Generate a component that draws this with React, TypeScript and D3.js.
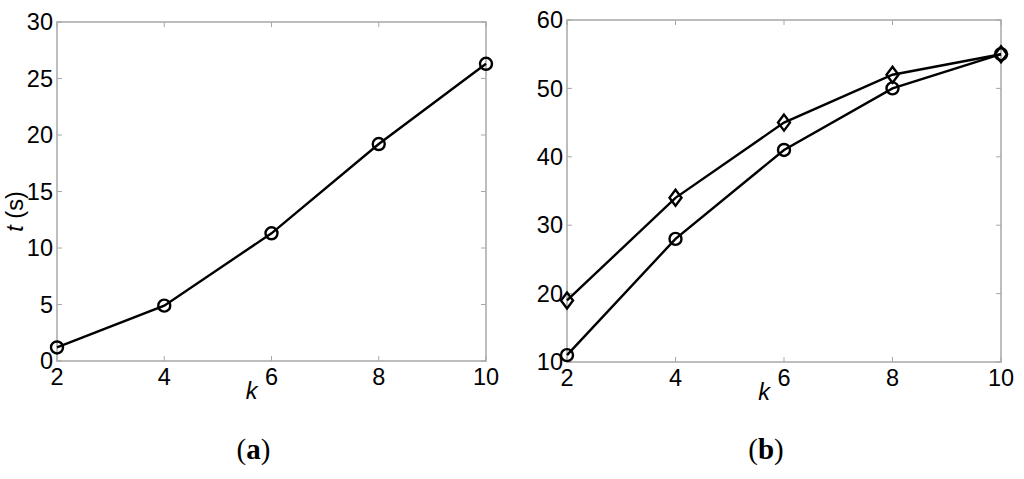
import { useRef, useEffect } from 'react';
import * as d3 from 'd3';

const kValues = [2, 4, 6, 8, 10];
const timeA = [1.2, 4.9, 11.3, 19.2, 26.3];
const diamondB = [19, 34, 45, 52, 55];
const circleB = [11, 28, 41, 50, 55];
const xTicks = [2, 4, 6, 8, 10];
const yTicksA = [0, 5, 10, 15, 20, 25, 30];
const yTicksB = [10, 20, 30, 40, 50, 60];

const AXIS_GREY = '#a8a8a8';
const TICK_FONT = '"Liberation Sans", Arial, sans-serif';
const FS = '23.5px';

function drawPanel(svg, opts) {
  const { left, right, top, bottom, yDomain, yTicks, series, yLabel, caption } = opts;
  const g = svg.append('g');

  const x = d3.scaleLinear().domain([2, 10]).range([left, right]);
  const y = d3.scaleLinear().domain(yDomain).range([bottom, top]);

  // box
  g.append('rect')
    .attr('x', left).attr('y', top)
    .attr('width', right - left).attr('height', bottom - top)
    .attr('fill', 'none').attr('stroke', AXIS_GREY).attr('stroke-width', 1.5);

  const tick = 5;
  // x ticks (bottom and top, inward)
  xTicks.forEach(v => {
    g.append('line').attr('x1', x(v)).attr('x2', x(v)).attr('y1', bottom).attr('y2', bottom - tick)
      .attr('stroke', AXIS_GREY);
    g.append('line').attr('x1', x(v)).attr('x2', x(v)).attr('y1', top).attr('y2', top + tick)
      .attr('stroke', AXIS_GREY);
    g.append('text').attr('x', x(v)).attr('y', bottom + 24)
      .attr('text-anchor', 'middle').style('font-family', TICK_FONT).style('font-size', FS)
      .text(v);
  });
  // y ticks (left and right, inward)
  yTicks.forEach(v => {
    g.append('line').attr('x1', left).attr('x2', left + tick).attr('y1', y(v)).attr('y2', y(v))
      .attr('stroke', AXIS_GREY);
    g.append('line').attr('x1', right).attr('x2', right - tick).attr('y1', y(v)).attr('y2', y(v))
      .attr('stroke', AXIS_GREY);
    g.append('text').attr('x', left - 4).attr('y', y(v)).attr('dy', '0.35em')
      .attr('text-anchor', 'end').style('font-family', TICK_FONT).style('font-size', FS)
      .text(v);
  });

  // x label
  g.append('text').attr('x', (left + right) / 2 - 20).attr('y', bottom + 38)
    .attr('text-anchor', 'middle').style('font-family', TICK_FONT).style('font-size', FS)
    .style('font-style', 'italic').text('k');

  if (yLabel) {
    const t = g.append('text')
      .attr('transform', `translate(${left - 34},${(top + bottom) / 2 + 20}) rotate(-90)`)
      .attr('text-anchor', 'middle').style('font-family', TICK_FONT).style('font-size', FS);
    t.append('tspan').style('font-style', 'italic').text('t');
    t.append('tspan').text(' (s)');
  }

  const line = d3.line().x((d, i) => x(kValues[i])).y(d => y(d));

  series.forEach(s => {
    g.append('path').datum(s.values).attr('d', line)
      .attr('fill', 'none').attr('stroke', '#000').attr('stroke-width', 2.4);
    s.values.forEach((v, i) => {
      const cx = x(kValues[i]), cy = y(v);
      if (s.marker === 'circle') {
        g.append('circle').attr('cx', cx).attr('cy', cy).attr('r', 6)
          .attr('fill', 'none').attr('stroke', '#000').attr('stroke-width', 2.4);
      } else {
        g.append('path')
          .attr('d', `M${cx},${cy - 8}L${cx + 6},${cy}L${cx},${cy + 8}L${cx - 6},${cy}Z`)
          .attr('fill', 'none').attr('stroke', '#000').attr('stroke-width', 2.4);
      }
    });
  });

  g.append('text').attr('x', (left + right) / 2 - 18).attr('y', 459)
    .attr('text-anchor', 'middle')
    .style('font-family', '"Liberation Serif", "Times New Roman", serif')
    .style('font-size', '29px')
    .html(`(<tspan font-weight="bold">${caption}</tspan>)`);
}

function App() {
  const svgRef = useRef();

  useEffect(() => {
    const svg = d3.select(svgRef.current);
    svg.selectAll('*').remove();

    drawPanel(svg, {
      left: 57, right: 486, top: 22, bottom: 361,
      yDomain: [0, 30], yTicks: yTicksA,
      series: [{ values: timeA, marker: 'circle' }],
      yLabel: true, caption: 'a',
    });

    drawPanel(svg, {
      left: 567, right: 1001, top: 20, bottom: 362,
      yDomain: [10, 60], yTicks: yTicksB,
      series: [
        { values: diamondB, marker: 'diamond' },
        { values: circleB, marker: 'circle' },
      ],
      yLabel: false, caption: 'b',
    });
  }, []);

  return (
    <svg ref={svgRef} width={1024} height={479}
      style={{ position: 'absolute', left: 0, top: 0, background: '#fff' }} />
  );
}

export default App;
